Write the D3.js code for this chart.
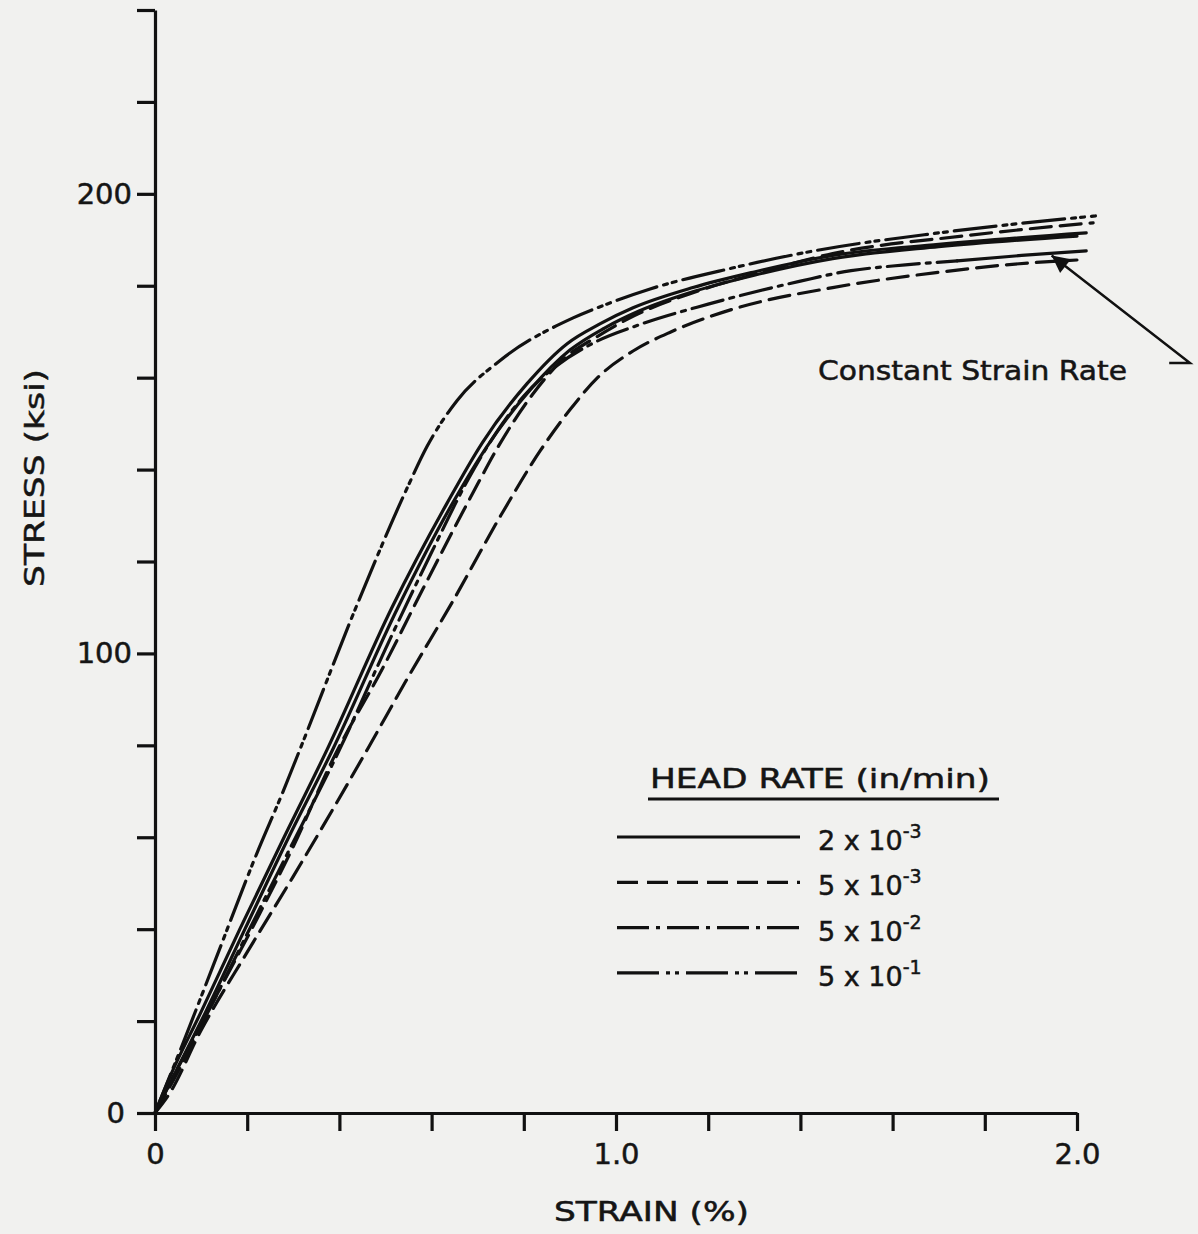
<!DOCTYPE html>
<html>
<head>
<meta charset="utf-8">
<script src="https://cdn.jsdelivr.net/npm/d3@7"></script>
<style>
  body { margin: 0; background: #f1f1ef; }
  svg { display: block; }
  text { font-family: "DejaVu Sans", sans-serif; fill: #151515; stroke: #151515; stroke-width: 0.5px; }
</style>
</head>
<body>
<div id="chart"></div>
<script>
////////////////////////////////////////////////////////////////////////////////
// DATA  -  [strain (%), stress (ksi)]
////////////////////////////////////////////////////////////////////////////////
const rate5e1 = [[0,0],[0.06,15],[0.126,32],[0.221,56.5],[0.278,70],[0.31,78],[0.44,111],[0.547,136],
  [0.59,145],[0.655,155],[0.748,163.7],[0.907,173],[0.98,176],[1.074,179.3],[1.25,183.8],[1.43,187.6],
  [1.7,191.5],[2.04,195.2]];

const rate2e3a = [[0,0],[0.033,8],[0.1,22],[0.184,40],[0.28,60],[0.373,79],[0.514,110],[0.633,132.6],
  [0.711,146],[0.807,158.7],[0.894,167.4],[0.965,171.7],[1.037,175.2],[1.167,179.6],[1.3,183],
  [1.47,186.6],[1.7,189],[2.02,191.5]];

const rate2e3b = [[0,0],[0.04,8],[0.11,22],[0.195,40],[0.29,60],[0.385,79],[0.527,110],[0.645,132.6],
  [0.72,145],[0.815,157.5],[0.9,166],[0.975,170.8],[1.05,174.5],[1.17,178.8],[1.3,182.3],
  [1.47,185.9],[1.7,188.5],[2.0,190.8]];

const rate5e3b = [[0,0],[0.05,9],[0.12,23],[0.22,42],[0.3,58],[0.386,77],[0.495,97],[0.581,114],
  [0.69,135],[0.748,145.6],[0.82,156.5],[0.88,163.5],[0.96,169],[1.04,173.5],[1.167,178.5],
  [1.3,182.5],[1.47,187],[1.75,190.8],[2.035,193.7]];

const rate5e2 = [[0,0],[0.04,8],[0.11,21],[0.2,39],[0.3,59],[0.4,79],[0.5,101],[0.6,122],[0.68,138],
  [0.74,148],[0.8,156],[0.87,162.5],[0.95,167.5],[1.05,171.5],[1.2,176],[1.4,181],[1.51,183.3],
  [1.6,184.3],[1.74,185.4]];

const constantRate = [[1.74,185.4],[1.88,186.6],[2.02,187.6]];

const rate5e3a = [[0,0],[0.03,4],[0.1,18],[0.2,35],[0.3,51.5],[0.46,79],[0.55,95],[0.644,111],
  [0.75,130],[0.835,144],[0.9,153],[0.96,160],[1.037,165.8],[1.12,170],[1.25,174.8],[1.47,179.6],
  [1.69,182.8],[1.9,185],[2.0,185.6]];

const strainTicks = d3.range(0, 11).map(i => i * 0.2);
const strainLabels = { 0: '0', 5: '1.0', 10: '2.0' };
const stressTicks = d3.range(0, 241, 20);
const stressLabels = [0, 100, 200];

const legendMantissa = ['2', '5', '5', '5'];
const legendExponent = ['-3', '-3', '-2', '-1'];

// annotation arrow: tail hook and tip, in data units
const arrowPath = [[2.2,163.2],[2.245,163.2],[1.945,186.6]];

////////////////////////////////////////////////////////////////////////////////
// CHART
////////////////////////////////////////////////////////////////////////////////
const width = 1198;
const height = 1234;

const svg = d3.select('#chart').append('svg')
  .attr('width', width)
  .attr('height', height);

const x = d3.scaleLinear().domain([0, 2]).range([155, 1077]);
const y = d3.scaleLinear().domain([0, 240]).range([1113, 10]);

const dash = {
  solid: null,
  dashed: '21,9',
  dashDot: '32,7,4,7',
  dashDotDot: '42,7,4,5,4,7'
};

const series = [
  { data: rate5e3a, style: dash.dashed },
  { data: rate5e2, style: dash.dashDot },
  { data: constantRate, style: dash.solid },
  { data: rate5e3b, style: dash.dashed },
  { data: rate2e3b, style: dash.solid },
  { data: rate2e3a, style: dash.solid },
  { data: rate5e1, style: dash.dashDotDot }
];

const line = d3.line()
  .x(d => x(d[0]))
  .y(d => y(d[1]))
  .curve(d3.curveMonotoneX);

svg.append('g').selectAll('path')
  .data(series)
  .join('path')
  .attr('d', d => line(d.data))
  .attr('fill', 'none')
  .attr('stroke', '#111')
  .attr('stroke-width', 3.2)
  .attr('stroke-linecap', 'round')
  .attr('stroke-dasharray', d => d.style);

// axes
const yAxis = d3.axisLeft(y)
  .tickValues(stressTicks)
  .tickSize(18)
  .tickSizeOuter(0)
  .tickPadding(5)
  .tickFormat(d => stressLabels.includes(d) ? d : '');

const xAxis = d3.axisBottom(x)
  .tickValues(strainTicks)
  .tickSize(18)
  .tickSizeOuter(0)
  .tickPadding(12)
  .tickFormat((d, i) => strainLabels[i] || '');

const gy = svg.append('g').attr('transform', 'translate(155,0)').call(yAxis);
const gx = svg.append('g').attr('transform', 'translate(0,1113)').call(xAxis);

[gx, gy].forEach(g => {
  g.selectAll('path, line').attr('stroke', '#111').attr('stroke-width', 3.2);
  g.selectAll('text').attr('font-size', 29).attr('font-family', '"DejaVu Sans", sans-serif')
    .attr('fill', '#151515').attr('stroke', '#151515').attr('stroke-width', 0.5);
});
gy.selectAll('.tick text').filter(d => d === 0).attr('x', -30);

// axis titles
svg.append('text')
  .attr('x', 554).attr('y', 1221)
  .attr('font-size', 26)
  .attr('textLength', 195)
  .attr('lengthAdjust', 'spacingAndGlyphs')
  .text('STRAIN (%)');

svg.append('text')
  .attr('transform', 'translate(44,587) rotate(-90)')
  .attr('font-size', 26)
  .attr('textLength', 218)
  .attr('lengthAdjust', 'spacingAndGlyphs')
  .text('STRESS (ksi)');

// annotation
svg.append('defs').append('marker')
  .attr('id', 'head')
  .attr('viewBox', '0 0 10 10')
  .attr('refX', 10).attr('refY', 5)
  .attr('markerWidth', 9).attr('markerHeight', 7)
  .attr('markerUnits', 'strokeWidth')
  .attr('orient', 'auto')
  .append('path')
  .attr('d', 'M0,0 L10,5 L0,10 Z')
  .attr('fill', '#111');

svg.append('path')
  .attr('d', d3.line().x(d => x(d[0])).y(d => y(d[1]))(arrowPath))
  .attr('fill', 'none')
  .attr('stroke', '#111')
  .attr('stroke-width', 2.5)
  .attr('marker-end', 'url(#head)');

svg.append('text')
  .attr('x', 818).attr('y', 380)
  .attr('font-size', 26)
  .attr('textLength', 309)
  .attr('lengthAdjust', 'spacingAndGlyphs')
  .text('Constant Strain Rate');

// legend
const legend = svg.append('g');

legend.append('text')
  .attr('x', 650).attr('y', 788)
  .attr('font-size', 27)
  .attr('textLength', 340)
  .attr('lengthAdjust', 'spacingAndGlyphs')
  .text('HEAD RATE (in/min)');

legend.append('line')
  .attr('x1', 648).attr('x2', 999)
  .attr('y1', 799).attr('y2', 799)
  .attr('stroke', '#111').attr('stroke-width', 3);

const legendStyles = [dash.solid, dash.dashed, dash.dashDot, dash.dashDotDot];

const rows = legend.selectAll('g.row')
  .data(legendMantissa)
  .join('g')
  .attr('class', 'row')
  .attr('transform', (d, i) => `translate(0, ${837 + i * 45.3})`);

rows.append('line')
  .attr('x1', 617).attr('x2', 800)
  .attr('stroke', '#111')
  .attr('stroke-width', 3.2)
  .attr('stroke-dasharray', (d, i) => legendStyles[i]);

const labels = rows.append('text')
  .attr('x', 818).attr('y', 13)
  .attr('font-size', 27);

labels.append('tspan').text(d => d + ' x 10');
labels.append('tspan')
  .attr('dy', -12)
  .attr('font-size', 19)
  .text((d, i) => legendExponent[i]);
</script>
</body>
</html>
